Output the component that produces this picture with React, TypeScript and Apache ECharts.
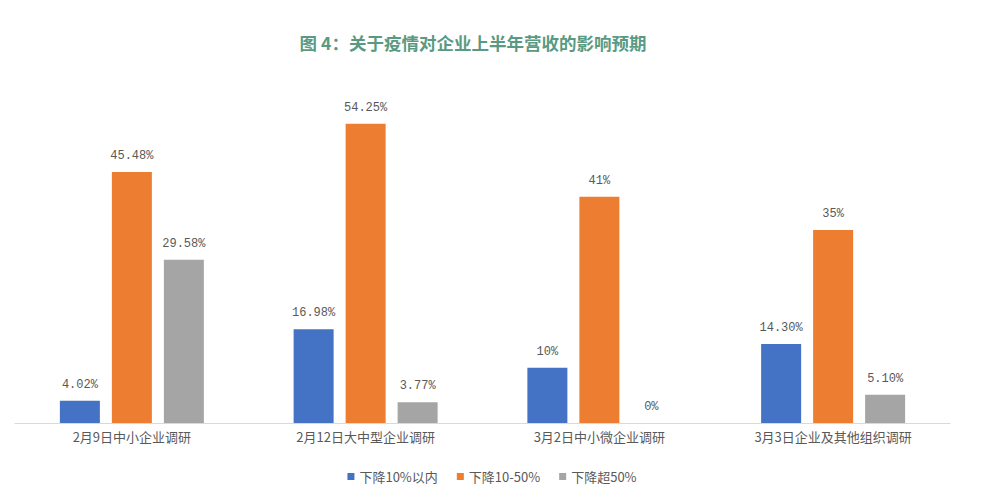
import React, { useEffect, useRef } from 'react';
import * as echarts from 'echarts';

const categories = ['2月9日中小企业调研', '2月12日大中型企业调研', '3月2日中小微企业调研', '3月3日企业及其他组织调研'];
const seriesNames = ['下降10%以内', '下降10-50%', '下降超50%'];
const within10 = [4.02, 16.98, 10, 14.3];
const from10to50 = [45.48, 54.25, 41, 35];
const over50 = [29.58, 3.77, 0, 5.1];
const within10Labels = ['4.02%', '16.98%', '10%', '14.30%'];
const from10to50Labels = ['45.48%', '54.25%', '41%', '35%'];
const over50Labels = ['29.58%', '3.77%', '0%', '5.10%'];
const colors = ['#4472C4', '#ED7D31', '#A5A5A5'];

const App: React.FC = () => {
  const chartRef = useRef<HTMLDivElement>(null);

  useEffect(() => {
    if (!chartRef.current) return;
    const chart = echarts.init(chartRef.current, undefined, { renderer: 'svg' });

    const values = [within10, from10to50, over50];
    const labels = [within10Labels, from10to50Labels, over50Labels];

    const option: echarts.EChartsOption = {
      animation: false,
      color: colors,
      title: {
        text: '图 4：关于疫情对企业上半年营收的影响预期',
        left: 460,
        textAlign: 'center',
        top: 21,
        textStyle: {
          color: '#5a9a82',
          fontSize: 17.5,
          fontWeight: 'bold',
          fontFamily: 'Noto Sans CJK SC'
        }
      },
      legend: {
        bottom: 4,
        left: 'center',
        itemWidth: 7,
        itemHeight: 7,
        itemGap: 19,
        icon: 'rect',
        textStyle: { color: '#595959', fontSize: 13, fontFamily: 'Noto Sans CJK SC' },
        data: seriesNames
      },
      grid: { left: 7, right: 26, top: 84, bottom: 69 },
      xAxis: {
        type: 'category',
        data: categories,
        axisTick: { show: false },
        axisLine: { lineStyle: { color: '#d9d9d9', width: 1 } },
        axisLabel: {
          color: '#595959',
          fontSize: 13,
          margin: 7,
          fontFamily: 'Noto Sans CJK SC'
        }
      },
      yAxis: {
        type: 'value',
        min: 0,
        max: 60,
        show: false
      },
      series: seriesNames.map((name, i) => ({
        name,
        type: 'bar',
        data: values[i],
        barWidth: 40,
        barGap: '30%',
        label: {
          show: true,
          position: 'top',
          distance: 10,
          color: '#595959',
          fontSize: 12,
          fontFamily: 'Liberation Mono',
          formatter: (p: any) => labels[i][p.dataIndex]
        }
      }))
    };

    chart.setOption(option);
    return () => {
      chart.dispose();
    };
  }, []);

  return <div ref={chartRef} style={{ width: '968px', height: '484px' }} />;
};

export default App;
